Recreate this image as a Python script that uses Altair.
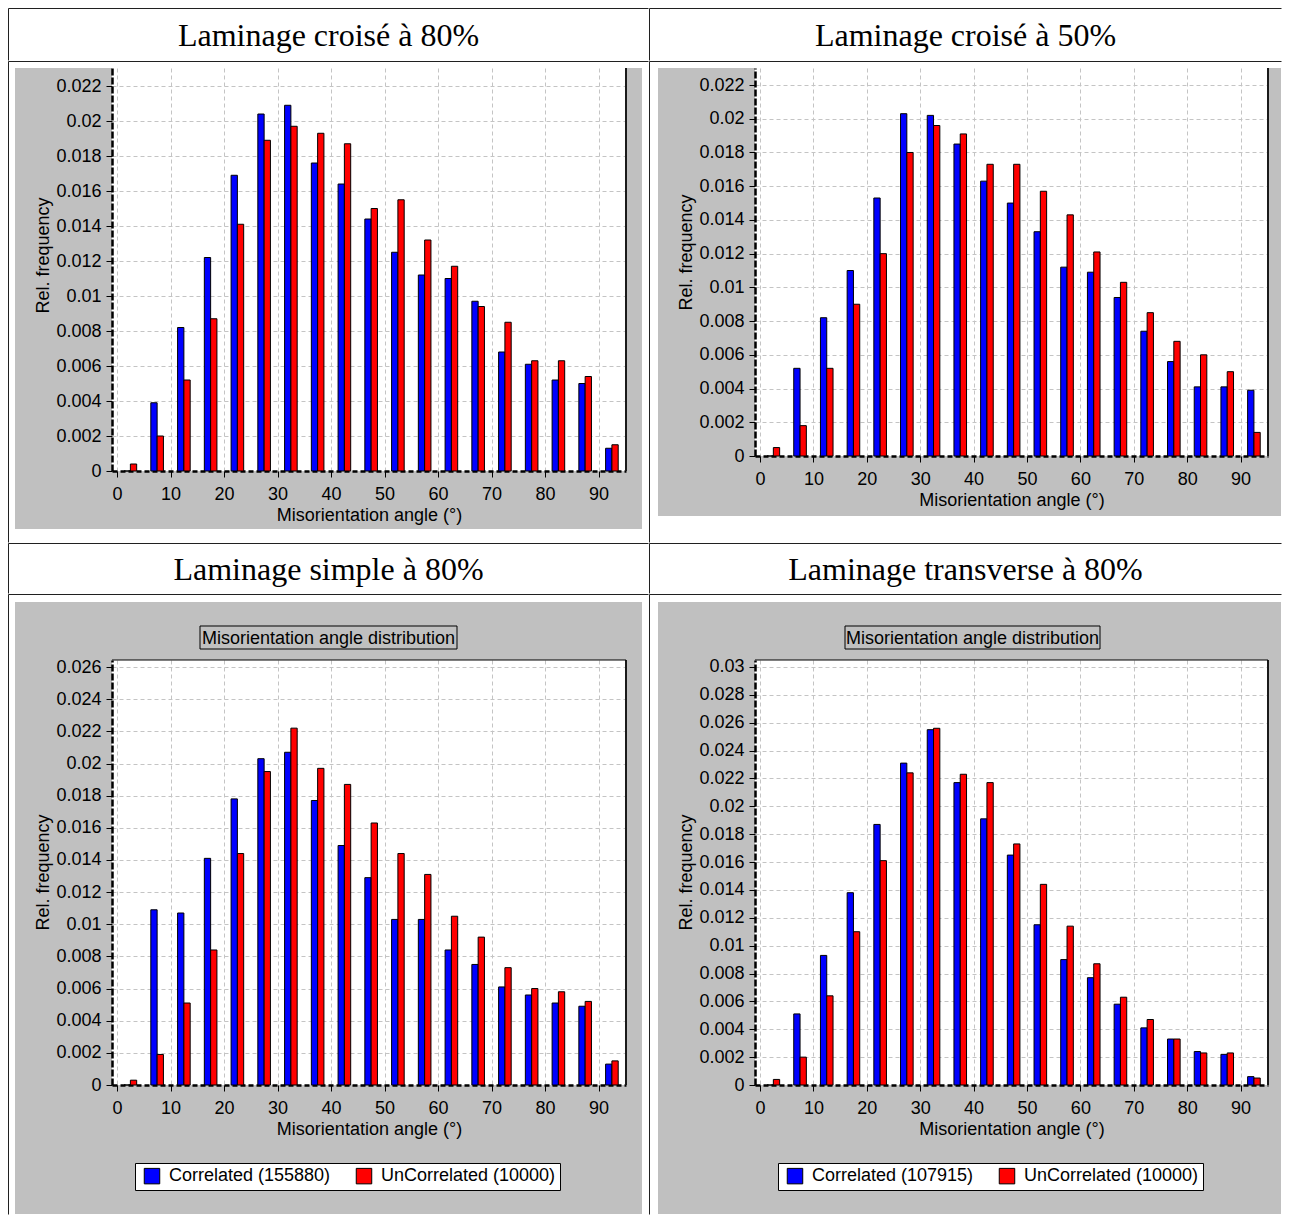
import altair as alt
import pandas as pd

# ---------------- data ----------------
bin_centres = [2.5, 7.5, 12.5, 17.5, 22.5, 27.5, 32.5, 37.5, 42.5, 47.5,
               52.5, 57.5, 62.5, 67.5, 72.5, 77.5, 82.5, 87.5, 92.5]
x_tick_values = [0, 10, 20, 30, 40, 50, 60, 70, 80, 90]
y_ticks_022 = [0, 0.002, 0.004, 0.006, 0.008, 0.01, 0.012, 0.014, 0.016, 0.018, 0.02, 0.022]
y_ticks_026 = [0, 0.002, 0.004, 0.006, 0.008, 0.01, 0.012, 0.014, 0.016, 0.018, 0.02, 0.022,
               0.024, 0.026]
y_ticks_030 = [0, 0.002, 0.004, 0.006, 0.008, 0.01, 0.012, 0.014, 0.016, 0.018, 0.02, 0.022,
               0.024, 0.026, 0.028, 0.03]

panel_titles = ["Laminage croisé à 80%", "Laminage croisé à 50%",
                "Laminage simple à 80%", "Laminage transverse à 80%"]
box_title = ["Misorientation angle distribution"]
x_title = "Misorientation angle (°)"
y_title = "Rel. frequency"

series_plain = ["Correlated", "UnCorrelated"]
series_simple = ["Correlated (155880)", "UnCorrelated (10000)"]
series_transverse = ["Correlated (107915)", "UnCorrelated (10000)"]

croise80_corr = [0, 0.0039, 0.0082, 0.0122, 0.0169, 0.0204, 0.0209, 0.0176, 0.0164, 0.0144,
                 0.0125, 0.0112, 0.0110, 0.0097, 0.0068, 0.0061, 0.0052, 0.0050, 0.0013]
croise80_uncorr = [0.0004, 0.0020, 0.0052, 0.0087, 0.0141, 0.0189, 0.0197, 0.0193, 0.0187, 0.0150,
                   0.0155, 0.0132, 0.0117, 0.0094, 0.0085, 0.0063, 0.0063, 0.0054, 0.0015]

croise50_corr = [0, 0.0052, 0.0082, 0.0110, 0.0153, 0.0203, 0.0202, 0.0185, 0.0163, 0.0150,
                 0.0133, 0.0112, 0.0109, 0.0094, 0.0074, 0.0056, 0.0041, 0.0041, 0.0039]
croise50_uncorr = [0.0005, 0.0018, 0.0052, 0.0090, 0.0120, 0.0180, 0.0196, 0.0191, 0.0173, 0.0173,
                   0.0157, 0.0143, 0.0121, 0.0103, 0.0085, 0.0068, 0.0060, 0.0050, 0.0014]

simple80_corr = [0, 0.0109, 0.0107, 0.0141, 0.0178, 0.0203, 0.0207, 0.0177, 0.0149, 0.0129,
                 0.0103, 0.0103, 0.0084, 0.0075, 0.0061, 0.0056, 0.0051, 0.0049, 0.0013]
simple80_uncorr = [0.0003, 0.0019, 0.0051, 0.0084, 0.0144, 0.0195, 0.0222, 0.0197, 0.0187, 0.0163,
                   0.0144, 0.0131, 0.0105, 0.0092, 0.0073, 0.0060, 0.0058, 0.0052, 0.0015]

transverse80_corr = [0, 0.0051, 0.0093, 0.0138, 0.0187, 0.0231, 0.0255, 0.0217, 0.0191, 0.0165,
                     0.0115, 0.0090, 0.0077, 0.0058, 0.0041, 0.0033, 0.0024, 0.0022, 0.0006]
transverse80_uncorr = [0.0004, 0.0020, 0.0064, 0.0110, 0.0161, 0.0224, 0.0256, 0.0223, 0.0217, 0.0173,
                       0.0144, 0.0114, 0.0087, 0.0063, 0.0047, 0.0033, 0.0023, 0.0023, 0.0005]

# ---------------- styling ----------------
FONT = "Liberation Sans"
SERIF = "Liberation Serif"
BLUE = "#0000ff"
RED = "#ff0000"
GREY = "#c0c0c0"
GRID = "#c4c4c4"
LINE = "#202020"
ONE = alt.Data(values=[{"k": 0}])


def rect(x1, y1, x2, y2, **kw):
    return alt.Chart(ONE).mark_rect(**kw).encode(
        x=alt.value(x1), x2=alt.value(x2), y=alt.value(y1), y2=alt.value(y2))


def hline(x1, x2, y, color=LINE, width=1):
    return alt.Chart(ONE).mark_rule(color=color, strokeWidth=width).encode(
        x=alt.value(x1), x2=alt.value(x2), y=alt.value(y))


def vline(x, y1, y2, color=LINE, width=1):
    return alt.Chart(ONE).mark_rule(color=color, strokeWidth=width).encode(
        x=alt.value(x), y=alt.value(y1), y2=alt.value(y2))


def title_cell(text, g, h):
    cx1, _, cx2, _ = g["cell"]
    label = alt.Chart(pd.DataFrame({"t": [text]})).mark_text(
        font=SERIF, fontSize=32, color="black", align="center", baseline="middle"
    ).encode(text="t:N", x=alt.value((cx1 + cx2) / 2), y=alt.value(h / 2 + 1))
    return alt.layer(
        rect(cx1, 0, cx2, h, fill="white"),
        hline(cx1 + 0.5, cx2 - 0.5, 0.5),
        vline(cx1 + 0.5, 0.5, h - 0.5),
        label,
    ).properties(width=g["W"], height=h)


def panel(corr, uncorr, names, y_ticks, y_max, g, legend=False, boxed=False):
    W, H = g["W"], g["H"]
    xs = alt.Scale(domain=[0, 94.2], nice=False, zero=False)
    ys = alt.Scale(domain=[0, y_max], nice=False)

    x_axis = alt.Axis(values=x_tick_values, format="d", grid=True, gridColor=GRID,
                      gridDash=[4, 3], gridWidth=1,
                      tickSize=6, tickColor="black", domainColor="black", domainWidth=2.5,
                      domainDash=[5, 3], labelFont=FONT, labelFontSize=18, labelColor="black",
                      labelPadding=8, labelFlush=False, labelOverlap=False,
                      title=x_title, titleFont=FONT, titleFontSize=18, titleFontWeight="normal",
                      titleColor="black", titleBaseline="middle", titleY=44)
    y_axis = alt.Axis(values=y_ticks, format="~g", grid=True, gridColor=GRID,
                      gridDash=[4, 3], gridWidth=1,
                      tickSize=6, tickColor="black", domainColor="black", domainWidth=2.5,
                      domainDash=[7, 2], labelFont=FONT, labelFontSize=18, labelColor="black",
                      labelPadding=5, labelOverlap=False, labelFlush=False,
                      title=y_title, titleFont=FONT, titleFontSize=18, titleFontWeight="normal",
                      titleColor="black", titleAngle=270, titleAlign="center",
                      titleBaseline="middle", titleX=-69, titleY=g["ty"])

    cx1, cy1, cx2, cy2 = g["cell"]
    gx1, gy1, gx2, gy2 = g["grey"]
    # white margins of the table cell around the grey panel (page background is grey)
    layers = [
        rect(cx1, cy1, gx1, cy2, fill="white"),
        rect(gx2, cy1, cx2, cy2, fill="white"),
        rect(gx1, cy1, gx2, gy1, fill="white"),
        rect(gx1, gy2, gx2, cy2, fill="white"),
        hline(cx1 + 0.5, cx2 - 0.5, cy1 + 0.5),
        vline(cx1 + 0.5, cy1 + 0.5, cy2 - 0.5),
    ]

    cscale = alt.Scale(domain=names, range=[BLUE, RED])
    if legend:
        leg = alt.Legend(orient="none", legendX=23, legendY=503, direction="horizontal",
                         fillColor="white", strokeColor="black", padding=4,
                         symbolType="square", symbolSize=240, symbolStrokeColor="black",
                         symbolStrokeWidth=1, symbolOffset=4, labelOffset=8, labelLimit=400,
                         labelFont=FONT, labelFontSize=18, labelColor="black",
                         columnPadding=20, zindex=1)
    else:
        leg = None

    for i, (vals, off) in enumerate([(corr, -3.15), (uncorr, 3.15)]):
        df = pd.DataFrame({"angle": bin_centres, "value": vals, "series": names[i]})
        layers.append(
            alt.Chart(df).mark_bar(width=6.3, xOffset=off, stroke="black", strokeWidth=1,
                                   opacity=1).encode(
                x=alt.X("angle:Q", scale=xs, axis=x_axis),
                y=alt.Y("value:Q", scale=ys, axis=y_axis),
                color=alt.Color("series:N", scale=cscale, legend=leg, title=None),
            )
        )

    # frame of the plot area
    layers.append(vline(W, 0, H, color="#1a1a1a", width=2))
    if boxed:
        layers.append(hline(0, W, 0, color="black"))
        bx1, by1, bx2, by2 = g["box"]
        layers.append(rect(bx1, by1, bx2, by2, fill=GREY, stroke="black", strokeWidth=1))
        layers.append(alt.Chart(pd.DataFrame({"t": box_title})).mark_text(
            font=FONT, fontSize=18, color="black", align="center", baseline="middle"
        ).encode(text="t:N", x=alt.value((bx1 + bx2) / 2), y=alt.value((by1 + by2) / 2 + 1)))

    return alt.layer(*layers).properties(width=W, height=H,
                                         view=alt.ViewBackground(fill="white", strokeWidth=0))


g1 = {"W": 514, "H": 403, "cell": (-104, -7, 537, 475), "grey": (-97, 0, 530, 461), "ty": 187}
g2 = {"W": 513, "H": 388, "cell": (-106, -7, 527, 475), "grey": (-97, 0, 526, 448), "ty": 184}
g3 = {"W": 514, "H": 425, "cell": (-104, -66, 537, 555), "grey": (-97, -58, 530, 554), "ty": 212,
      "box": (88, -34, 345, -11)}
g4 = {"W": 513, "H": 425, "cell": (-106, -66, 527, 555), "grey": (-97, -58, 526, 554), "ty": 212,
      "box": (90, -34, 345, -11)}

p1 = panel(croise80_corr, croise80_uncorr, series_plain, y_ticks_022, 0.02303, g1)
p2 = panel(croise50_corr, croise50_uncorr, series_plain, y_ticks_022, 0.02301, g2)
p3 = panel(simple80_corr, simple80_uncorr, series_simple, y_ticks_026, 0.02644, g3,
           legend=True, boxed=True)
p4 = panel(transverse80_corr, transverse80_uncorr, series_transverse, y_ticks_030, 0.0305, g4,
           legend=True, boxed=True)

ind = dict(x="independent", y="independent", color="independent")
row1 = alt.hconcat(title_cell(panel_titles[0], g1, 53), title_cell(panel_titles[1], g2, 53),
                   spacing=0)
row2 = alt.hconcat(p1, p2, spacing=0).resolve_scale(**ind)
row3 = alt.hconcat(title_cell(panel_titles[2], g3, 51), title_cell(panel_titles[3], g4, 51),
                   spacing=0)
row4 = alt.hconcat(p3, p4, spacing=0).resolve_scale(**ind)

chart = alt.vconcat(row1, row2, row3, row4, spacing=0).resolve_scale(**ind).properties(
    padding=0, background=GREY
).configure_view(strokeWidth=0)

chart.save("out.html", embed_options={"renderer": "svg", "actions": False})
